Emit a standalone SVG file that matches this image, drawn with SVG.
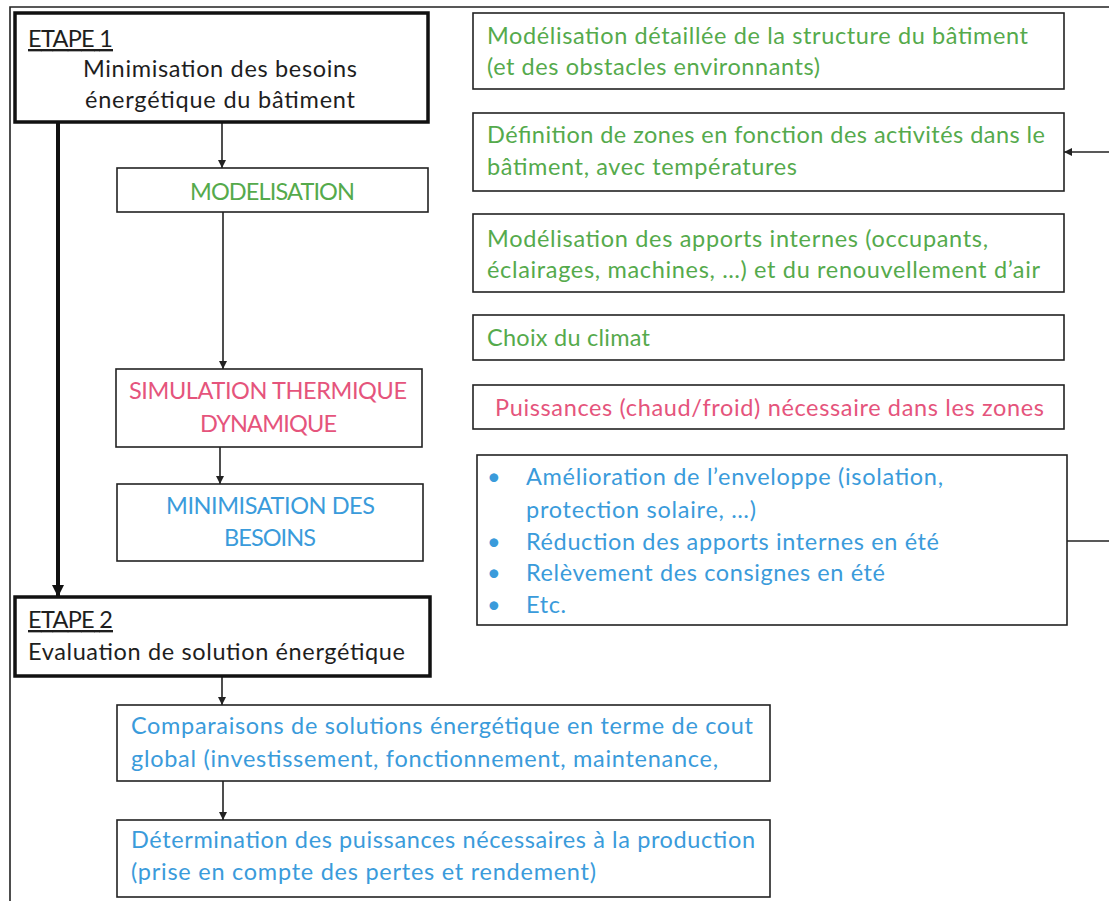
<svg xmlns="http://www.w3.org/2000/svg" width="1109" height="901" viewBox="0 0 1109 901">
<defs>
<style>
text{font-family:Lato,"Liberation Sans",sans-serif;font-size:23.5px;}
.k{fill:#1e1e1e}
.g{fill:#55aa4c}
.p{fill:#e5547c}
.b{fill:#3a9bdb}
.u{text-decoration:underline}
.thin{fill:#fff;stroke:#222;stroke-width:1.6}
.thick{fill:#fff;stroke:#111;stroke-width:3.5}
.ln{fill:none;stroke:#222;stroke-width:1.6}
.lnb{fill:none;stroke:#111;stroke-width:4}
</style>
<marker id="ah" viewBox="0 0 10 10" refX="10" refY="5" markerWidth="8" markerHeight="8" markerUnits="userSpaceOnUse" orient="auto">
<path d="M0,0 L10,5 L0,10 z" fill="#222"/>
</marker>
<marker id="ahb" viewBox="0 0 10 10" refX="10" refY="5" markerWidth="12" markerHeight="14" markerUnits="userSpaceOnUse" orient="auto">
<path d="M0,0 L10,5 L0,10 z" fill="#111"/>
</marker>
</defs>
<rect width="1109" height="901" fill="#fff"/>

<g id="connectors">
<path class="ln" d="M10,901 V7 H1109"/>
<path class="lnb" d="M58,122 V597" marker-end="url(#ahb)"/>
<path class="ln" d="M222,122 V168" marker-end="url(#ah)"/>
<path class="ln" d="M223,212 V369" marker-end="url(#ah)"/>
<path class="ln" d="M220,447 V484" marker-end="url(#ah)"/>
<path class="ln" d="M222,676 V705" marker-end="url(#ah)"/>
<path class="ln" d="M223,781 V820" marker-end="url(#ah)"/>
<path class="ln" d="M1109,152 H1064" marker-end="url(#ah)"/>
<path class="ln" d="M1067,541 H1109"/>
</g>

<g id="etape1">
<rect class="thick" x="15" y="13" width="413" height="109"/>
<text class="k u" x="28" y="47" textLength="85">ETAPE 1</text>
<text class="k" x="83" y="77" textLength="274">Minimisation des besoins</text>
<text class="k" x="85" y="108" textLength="270">énergétique du bâtiment</text>
</g>

<g id="modelisation">
<rect class="thin" x="117" y="168" width="311" height="44"/>
<text class="g" x="190" y="200" textLength="165">MODELISATION</text>
</g>

<g id="simulation">
<rect class="thin" x="116" y="369" width="306" height="78"/>
<text class="p" x="129" y="399" textLength="278">SIMULATION THERMIQUE</text>
<text class="p" x="200" y="432" textLength="137">DYNAMIQUE</text>
</g>

<g id="minimisation">
<rect class="thin" x="117" y="484" width="306" height="77"/>
<text class="b" x="166" y="514" textLength="209">MINIMISATION DES</text>
<text class="b" x="224" y="546" textLength="92">BESOINS</text>
</g>

<g id="etape2">
<rect class="thick" x="15" y="597" width="415" height="79"/>
<text class="k u" x="28" y="628" textLength="85">ETAPE 2</text>
<text class="k" x="28" y="660" textLength="377">Evaluation de solution énergétique</text>
</g>

<g id="comparaisons">
<rect class="thin" x="117" y="705" width="653" height="76"/>
<text class="b" x="131" y="734" textLength="622">Comparaisons de solutions énergétique en terme de cout</text>
<text class="b" x="131" y="767" textLength="587">global (investissement, fonctionnement, maintenance,</text>
</g>

<g id="determination">
<rect class="thin" x="117" y="820" width="653" height="77"/>
<text class="b" x="131" y="848" textLength="624">Détermination des puissances nécessaires à la production</text>
<text class="b" x="131" y="880" textLength="465">(prise en compte des pertes et rendement)</text>
</g>

<g id="structure">
<rect class="thin" x="473" y="13" width="591" height="76"/>
<text class="g" x="487" y="44" textLength="541">Modélisation détaillée de la structure du bâtiment</text>
<text class="g" x="487" y="75" textLength="333">(et des obstacles environnants)</text>
</g>

<g id="zones">
<rect class="thin" x="473" y="113" width="591" height="78"/>
<text class="g" x="487" y="143" textLength="558">Définition de zones en fonction des activités dans le</text>
<text class="g" x="487" y="175" textLength="310">bâtiment, avec températures</text>
</g>

<g id="apports">
<rect class="thin" x="473" y="214" width="591" height="78"/>
<text class="g" x="487" y="247" textLength="501">Modélisation des apports internes (occupants,</text>
<text class="g" x="487" y="278" textLength="553">éclairages, machines, …) et du renouvellement d’air</text>
</g>

<g id="climat">
<rect class="thin" x="473" y="315" width="591" height="45"/>
<text class="g" x="487" y="346" textLength="163">Choix du climat</text>
</g>

<g id="puissances">
<rect class="thin" x="473" y="385" width="591" height="44"/>
<text class="p" x="495" y="416" textLength="549">Puissances (chaud/froid) nécessaire dans les zones</text>
</g>

<g id="amelioration">
<rect class="thin" x="477" y="455" width="590" height="170"/>
<text class="b" x="487" y="485">•</text>
<text class="b" x="526" y="485" textLength="417">Amélioration de l’enveloppe (isolation,</text>
<text class="b" x="526" y="518" textLength="230">protection solaire, …)</text>
<text class="b" x="487" y="550">•</text>
<text class="b" x="526" y="550" textLength="413">Réduction des apports internes en été</text>
<text class="b" x="487" y="581">•</text>
<text class="b" x="526" y="581" textLength="359">Relèvement des consignes en été</text>
<text class="b" x="487" y="613">•</text>
<text class="b" x="526" y="613" textLength="40">Etc.</text>
</g>
</svg>
